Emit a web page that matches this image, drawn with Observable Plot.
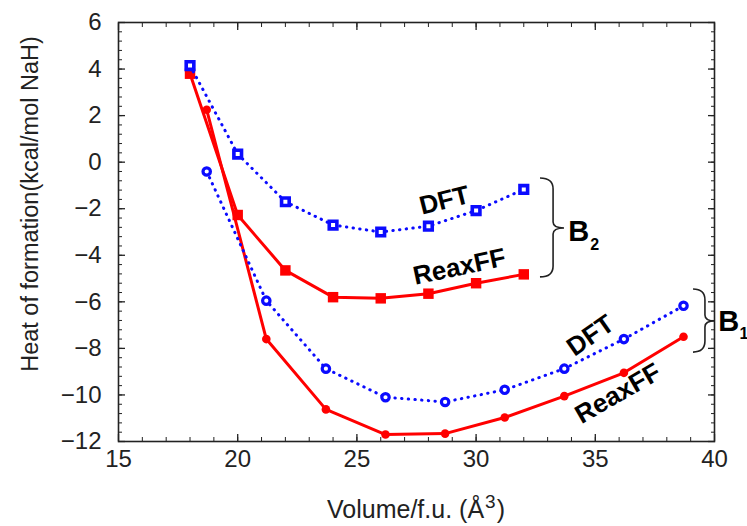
<!DOCTYPE html>
<html><head><meta charset="utf-8">
<script src="https://cdn.jsdelivr.net/npm/d3@7"></script>
<script src="https://cdn.jsdelivr.net/npm/@observablehq/plot@0.6"></script>
<style>body{margin:0;background:#fff}#chart{width:747px;height:526px}</style>
</head><body><div id="chart"></div>
<script>
// ---- data ----
const b2Vol   = [18, 20, 22, 24, 26, 28, 30, 32];
const b2DFT   = [4.15, 0.35, -1.7, -2.7, -3.0, -2.75, -2.08, -1.17];
const b2Reax  = [3.8, -2.27, -4.65, -5.8, -5.85, -5.65, -5.2, -4.82];
const b1Vol   = [18.7, 21.2, 23.7, 26.2, 28.7, 31.2, 33.7, 36.2, 38.7];
const b1DFT   = [-0.4, -5.95, -8.87, -10.1, -10.3, -9.78, -8.87, -7.6, -6.17];
const b1Reax  = [2.25, -7.6, -10.62, -11.7, -11.66, -10.97, -10.05, -9.05, -7.5];

const xMajor = [15, 20, 25, 30, 35, 40];
const xMinor = d3.range(15, 41);
const yMajor = [-12, -10, -8, -6, -4, -2, 0, 2, 4, 6];
const yMinor = d3.range(-30, 16).map(i => i * 0.4);

const xTitleMain = "Volume/f.u. (Å";
const xTitleSup  = "3";
const xTitleEnd  = ")";
const yTitle = "Heat of formation(kcal/mol NaH)";

const curveLabels     = ["DFT", "ReaxFF", "DFT", "ReaxFF"];
const curveLabelX     = [28.67, 29.3, 34.8, 35.95];
const curveLabelY     = [-1.65, -4.5, -7.45, -9.94];
const curveLabelAngle = [-14, -12, -35, -30];

const groupNames = ["B", "B"];
const groupSubs  = ["2", "1"];
const groupX     = [34.3, 40.6];
const groupY     = [-2.98, -6.84];
const groupSubX  = [34.97, 41.24];
const groupSubY  = [-3.55, -7.38];

// braces: tip x, spine x, cusp x, top y, cusp y, bottom y (data units)
const braceTipX   = [32.7, 39.12];
const braceSpineX = [33.25, 39.62];
const braceCuspX  = [33.71, 40.04];
const braceTopY   = [-0.7, -5.47];
const braceMidY   = [-2.85, -6.84];
const braceBotY   = [-4.95, -8.18];

// ---- build tables ----
const rows = (vol, vals) => vol.map((v, i) => ({vol: v, heat: vals[i]}));
const b2DFTRows = rows(b2Vol, b2DFT), b2ReaxRows = rows(b2Vol, b2Reax);
const b1DFTRows = rows(b1Vol, b1DFT), b1ReaxRows = rows(b1Vol, b1Reax);
const labelRows = curveLabels.map((t, i) => ({t, x: curveLabelX[i], y: curveLabelY[i], a: curveLabelAngle[i]}));
const groupRows = groupNames.map((t, i) => ({t, s: groupSubs[i], x: groupX[i], y: groupY[i], sx: groupSubX[i], sy: groupSubY[i]}));
const braces = braceTipX.map((_, i) => ({x0: braceTipX[i], xs: braceSpineX[i], xc: braceCuspX[i], yt: braceTopY[i], ym: braceMidY[i], yb: braceBotY[i]}));

const blue = "#0b0bff", red = "#ff0000", ink = "#222";
const font = "'Liberation Sans', Arial, sans-serif";
const SVGNS = "http://www.w3.org/2000/svg";

const braceMark = (index, scales) => {
  const {x, y} = scales;
  const g = document.createElementNS(SVGNS, "g");
  for (const b of braces) {
    const x0 = x(b.x0), xs = x(b.xs), xc = x(b.xc), yt = y(b.yt), ym = y(b.ym), yb = y(b.yb);
    const rv = 11, rm = 6;
    const p = d3.path();
    p.moveTo(x0, yt);
    p.quadraticCurveTo(xs, yt, xs, yt + rv);
    p.lineTo(xs, ym - rm);
    p.quadraticCurveTo(xs, ym, xc, ym);
    p.quadraticCurveTo(xs, ym, xs, ym + rm);
    p.lineTo(xs, yb - rv);
    p.quadraticCurveTo(xs, yb, x0, yb);
    const el = document.createElementNS(SVGNS, "path");
    el.setAttribute("d", p.toString());
    el.setAttribute("fill", "none");
    el.setAttribute("stroke", ink);
    el.setAttribute("stroke-width", 1.6);
    g.appendChild(el);
  }
  return g;
};

// x-axis title with a real superscript
const xTitleMark = (index, scales, values, dims) => {
  const {x} = scales;
  const t = document.createElementNS(SVGNS, "text");
  t.setAttribute("x", (x(15) + x(40)) / 2);
  t.setAttribute("y", dims.height - 8);
  t.setAttribute("text-anchor", "middle");
  t.setAttribute("font-size", 25);
  t.setAttribute("fill", ink);
  const a = document.createElementNS(SVGNS, "tspan"); a.textContent = xTitleMain;
  const s = document.createElementNS(SVGNS, "tspan"); s.textContent = xTitleSup;
  s.setAttribute("font-size", 19); s.setAttribute("dy", -10); s.setAttribute("dx", 1);
  const e = document.createElementNS(SVGNS, "tspan"); e.textContent = xTitleEnd;
  e.setAttribute("dy", 10); e.setAttribute("dx", 1);
  t.append(a, s, e);
  return t;
};

const noText = () => "";
const chart = Plot.plot({
  width: 747, height: 526,
  marginLeft: 118, marginRight: 33, marginTop: 22, marginBottom: 85,
  x: {domain: [15, 40]},
  y: {domain: [-12, 6]},
  style: {fontFamily: font, fontSize: "24px", color: ink, background: "white", overflow: "visible"},
  marks: [
    // inward minor ticks
    Plot.axisX(xMinor, {anchor: "bottom", tickSize: 4, dy: -4, tickFormat: noText, label: null, stroke: ink}),
    Plot.axisX(xMinor, {anchor: "top", tickSize: 4, dy: 4, tickFormat: noText, label: null, stroke: ink}),
    Plot.axisY(yMinor, {anchor: "left", tickSize: 4, dx: 4, tickFormat: noText, label: null, stroke: ink}),
    Plot.axisY(yMinor, {anchor: "right", tickSize: 4, dx: -4, tickFormat: noText, label: null, stroke: ink}),
    // inward major ticks
    Plot.axisX(xMajor, {anchor: "bottom", tickSize: 7, dy: -7, tickFormat: noText, label: null, stroke: ink, strokeWidth: 1.3}),
    Plot.axisX(xMajor, {anchor: "top", tickSize: 7, dy: 7, tickFormat: noText, label: null, stroke: ink, strokeWidth: 1.3}),
    Plot.axisY(yMajor, {anchor: "left", tickSize: 7, dx: 7, tickFormat: noText, label: null, stroke: ink, strokeWidth: 1.3}),
    Plot.axisY(yMajor, {anchor: "right", tickSize: 7, dx: -7, tickFormat: noText, label: null, stroke: ink, strokeWidth: 1.3}),
    // tick labels
    Plot.axisX(xMajor, {anchor: "bottom", tickSize: 0, tickPadding: 8, label: null, fontSize: 24}),
    Plot.axisY(yMajor, {anchor: "left", tickSize: 0, tickPadding: 17, label: null, fontSize: 24}),
    Plot.frame({stroke: ink, strokeWidth: 1.6}),
    // axis titles
    xTitleMark,
    Plot.text([yTitle], {frameAnchor: "left", textAnchor: "middle", text: d => d, rotate: -90, dx: -88, dy: -28, fontSize: 23.5, fill: ink}),
    // ReaxFF curves
    Plot.line(b2ReaxRows, {x: "vol", y: "heat", stroke: red, strokeWidth: 3}),
    Plot.line(b1ReaxRows, {x: "vol", y: "heat", stroke: red, strokeWidth: 3}),
    Plot.dot(b2ReaxRows, {x: "vol", y: "heat", symbol: "square", r: 5.9, fill: red, stroke: "none"}),
    Plot.dot(b1ReaxRows, {x: "vol", y: "heat", symbol: "circle", r: 4.3, fill: red, stroke: "none"}),
    // DFT curves (dotted)
    Plot.line(b2DFTRows, {x: "vol", y: "heat", stroke: blue, strokeWidth: 3, strokeDasharray: "0.4 6.3", strokeLinecap: "round"}),
    Plot.line(b1DFTRows, {x: "vol", y: "heat", stroke: blue, strokeWidth: 3, strokeDasharray: "0.4 6.3", strokeLinecap: "round"}),
    Plot.dot(b2DFTRows, {x: "vol", y: "heat", symbol: "square", r: 4.3, fill: "white", stroke: blue, strokeWidth: 3.6}),
    Plot.dot(b1DFTRows, {x: "vol", y: "heat", symbol: "circle", r: 3.7, fill: "white", stroke: blue, strokeWidth: 3.2}),
    // labels
    Plot.text(labelRows, {x: "x", y: "y", text: "t", rotate: "a", fontSize: 26, fontWeight: "bold", fill: "#000"}),
    braceMark,
    Plot.text(groupRows, {x: "x", y: "y", text: "t", fontSize: 29, fontWeight: "bold", fill: "#000"}),
    Plot.text(groupRows, {x: "sx", y: "sy", text: "s", fontSize: 16, fontWeight: "bold", fill: "#000"})
  ]
});
document.getElementById("chart").appendChild(chart);
</script>
</body></html>
